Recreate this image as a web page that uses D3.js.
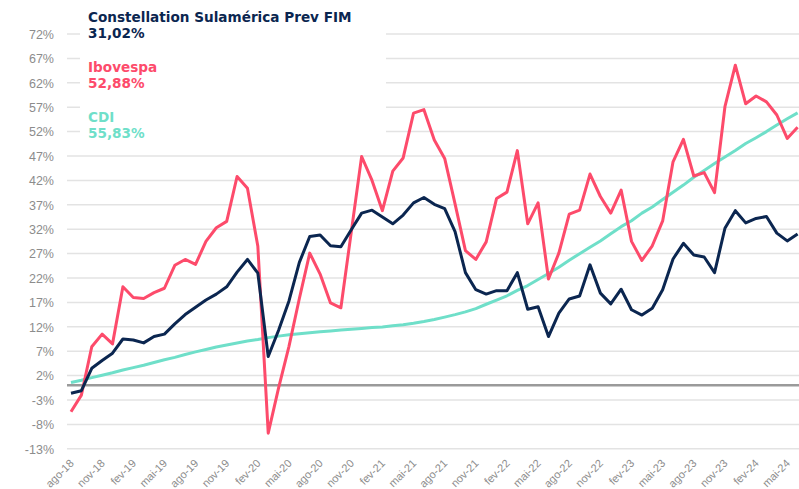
<!DOCTYPE html>
<html>
<head>
<meta charset="utf-8">
<script src="https://cdn.jsdelivr.net/npm/d3@7"></script>
<style>
  body { margin: 0; background: #fff; }
  svg { display: block; font-family: "DejaVu Sans", Verdana, sans-serif; }
  .grid line { stroke: #e3e3e3; stroke-width: 1.5; }
  .axis text { fill: #8c8c8c; }
</style>
</head>
<body>
<div id="chart"></div>
<script>
var months = [
  "ago-18","set-18","out-18","nov-18","dez-18",
  "jan-19","fev-19","mar-19","abr-19","mai-19","jun-19","jul-19","ago-19","set-19","out-19","nov-19","dez-19",
  "jan-20","fev-20","mar-20","abr-20","mai-20","jun-20","jul-20","ago-20","set-20","out-20","nov-20","dez-20",
  "jan-21","fev-21","mar-21","abr-21","mai-21","jun-21","jul-21","ago-21","set-21","out-21","nov-21","dez-21",
  "jan-22","fev-22","mar-22","abr-22","mai-22","jun-22","jul-22","ago-22","set-22","out-22","nov-22","dez-22",
  "jan-23","fev-23","mar-23","abr-23","mai-23","jun-23","jul-23","ago-23","set-23","out-23","nov-23","dez-23",
  "jan-24","fev-24","mar-24","abr-24","mai-24","jun-24"
];

// tick labels shown on the x axis (every 3 months)
var xTickLabels = ["ago-18","nov-18","fev-19","mai-19","ago-19","nov-19","fev-20","mai-20","ago-20","nov-20",
  "fev-21","mai-21","ago-21","nov-21","fev-22","mai-22","ago-22","nov-22","fev-23","mai-23","ago-23","nov-23",
  "fev-24","mai-24"];

var yTicks = [-13,-8,-3,2,7,12,17,22,27,32,37,42,47,52,57,62,67,72];

var fundo = [-1.6,-1.1,3.5,5.1,6.6,9.5,9.3,8.7,10.0,10.5,
  12.6,14.5,16.0,17.5,18.7,20.2,23.2,25.8,23.0,5.9,
  11.3,17.3,25.2,30.5,30.8,28.6,28.4,31.9,35.3,35.9,
  34.5,33.1,34.9,37.4,38.5,37.1,36.2,31.5,23.1,19.6,
  18.7,19.4,19.4,23.1,15.6,16.1,10.0,14.8,17.7,18.3,
  24.7,18.9,16.7,19.7,15.5,14.4,15.8,19.6,25.9,29.1,
  26.7,26.3,23.1,32.2,35.8,33.3,34.2,34.6,31.2,29.6,
  31.02];

var ibovespa = [-5.4,-2.0,7.9,10.5,8.5,20.2,18.0,17.8,19.0,19.9,
  24.6,25.8,24.8,29.5,32.3,33.6,42.8,40.4,28.5,-9.8,
  -0.5,8.0,17.8,27.1,22.8,16.9,15.9,31.4,46.9,42.0,
  35.8,43.9,46.6,55.8,56.5,50.3,46.5,37.2,27.6,25.8,
  29.4,38.3,39.6,48.1,33.1,37.4,21.8,27.1,35.1,35.9,
  43.3,38.7,35.3,40.0,29.5,25.6,28.6,33.7,45.8,50.4,
  42.9,43.6,39.5,57.1,65.6,57.7,59.3,58.1,55.4,50.6,
  52.88];

var cdi = [0.57,1.04,1.59,2.08,2.58,3.14,3.64,4.13,4.67,5.24,
  5.73,6.33,6.86,7.35,7.87,8.28,8.68,9.09,9.41,9.78,
  10.09,10.35,10.58,10.79,10.97,11.15,11.33,11.49,11.67,11.84,
  11.98,12.21,12.44,12.74,13.09,13.50,13.99,14.49,15.05,15.73,
  16.62,17.47,18.36,19.46,20.45,21.69,22.93,24.20,25.65,26.99,
  28.29,29.60,31.05,32.52,33.74,35.30,36.54,38.07,39.55,41.04,
  42.65,44.03,45.47,46.81,48.12,49.56,50.75,52.00,53.35,54.62,
  55.83];

var series = [
  { name: "Constellation Sulamérica Prev FIM", label: "31,02%", values: fundo, color: "#0b2650" },
  { name: "Ibovespa", label: "52,88%", values: ibovespa, color: "#fd4b6b" },
  { name: "CDI", label: "55,83%", values: cdi, color: "#6fdfc9" }
];

var width = 799, height = 489;

var svg = d3.select("#chart").append("svg")
    .attr("width", width)
    .attr("height", height);

var x = d3.scalePoint()
    .domain(months)
    .range([71, 797.6]);

var y = d3.scaleLinear()
    .domain([-13, 72])
    .range([448.8, 34]);

// gridlines
svg.append("g")
    .attr("class", "grid")
    .selectAll("line")
    .data(yTicks)
    .enter().append("line")
    .attr("x1", 67)
    .attr("x2", width)
    .attr("y1", function(d) { return y(d); })
    .attr("y2", function(d) { return y(d); });

// zero line
svg.append("line")
    .attr("x1", 67)
    .attr("x2", width)
    .attr("y1", y(0))
    .attr("y2", y(0))
    .attr("stroke", "#9a9a9a")
    .attr("stroke-width", 2.5);

// y axis labels
var yAxis = svg.append("g")
    .attr("class", "axis")
    .attr("transform", "translate(54,0)")
    .call(d3.axisLeft(y).tickValues(yTicks).tickSize(0).tickPadding(0)
      .tickFormat(function(d) { return d + "%"; }));
yAxis.select(".domain").remove();
yAxis.selectAll("text").attr("font-size", "12.5px").attr("dy", "0.35em");

// x axis labels
var xAxis = svg.append("g")
    .attr("class", "axis")
    .attr("transform", "translate(0,452)")
    .call(d3.axisBottom(x).tickValues(xTickLabels).tickSize(0).tickPadding(0));
xAxis.select(".domain").remove();
xAxis.selectAll("text")
    .attr("font-size", "11px")
    .attr("text-anchor", "end")
    .attr("dy", 0)
    .attr("y", 0)
    .attr("transform", "translate(3,12) rotate(-45)");

// legend backdrop
svg.append("rect")
    .attr("x", 80)
    .attr("y", 0)
    .attr("width", 306)
    .attr("height", 145)
    .attr("fill", "#fff");

var line = d3.line()
    .x(function(d, i) { return x(months[i]); })
    .y(function(d) { return y(d); });

// draw CDI first, then ibovespa, fund on top
[series[2], series[1], series[0]].forEach(function(s) {
  svg.append("path")
      .datum(s.values)
      .attr("fill", "none")
      .attr("stroke", s.color)
      .attr("stroke-width", 3)
      .attr("stroke-linejoin", "round")
      .attr("d", line);
});

var legendY = [21.7, 71.7, 121.7];
series.forEach(function(s, i) {
  svg.append("text")
      .attr("x", 88)
      .attr("y", legendY[i])
      .attr("font-size", "13.6px")
      .attr("font-weight", "bold")
      .attr("fill", s.color)
      .text(s.name);
  svg.append("text")
      .attr("x", 88)
      .attr("y", legendY[i] + 16.6)
      .attr("font-size", "13.6px")
      .attr("font-weight", "bold")
      .attr("fill", s.color)
      .text(s.label);
});
</script>
</body>
</html>
